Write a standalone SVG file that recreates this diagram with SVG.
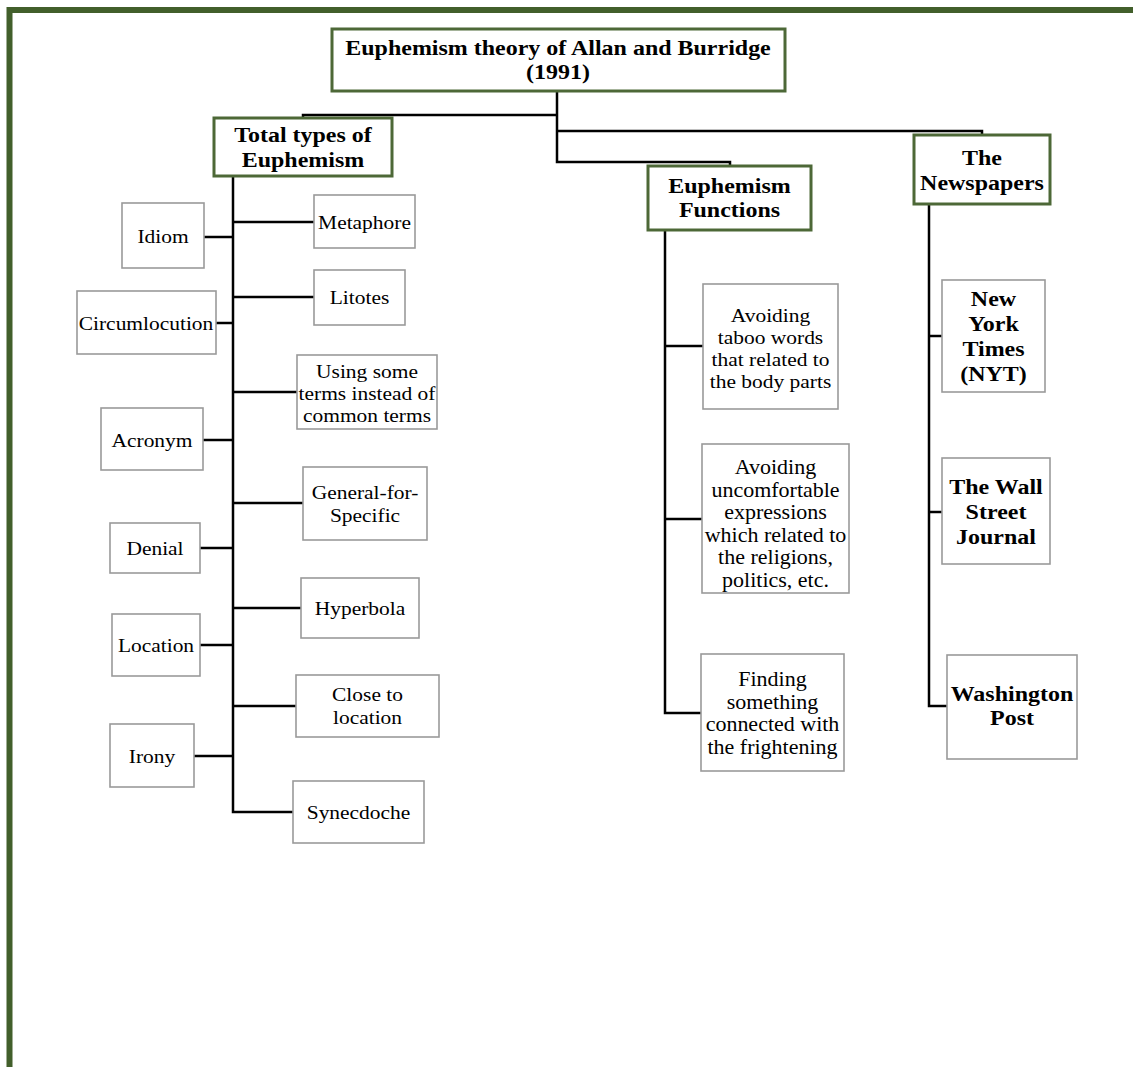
<svg xmlns="http://www.w3.org/2000/svg" width="1133" height="1067" viewBox="0 0 1133 1067">
<style>
.bg{fill:#ffffff}
.frame{stroke:#425f2b;stroke-width:6;fill:none}
.head{fill:#ffffff;stroke:#4d6837;stroke-width:3}
.leaf{fill:#ffffff;stroke:#9a9a9a;stroke-width:1.6}
.conn{stroke:#000000;stroke-width:2.5;fill:none}
text{font-family:"Liberation Serif","Times New Roman",serif;fill:#000000;text-anchor:middle}
.t{font-size:19.5px}
.m{font-size:20px}
.b{font-size:22px;font-weight:bold}
</style>
<rect class="bg" x="0" y="0" width="1133" height="1067"/>
<path class="frame" d="M9.5,1067 V10 H1133"/>

<g id="connectors">
<path class="conn" d="M557,91 V162 H730 V166"/>
<path class="conn" d="M557,115 H303 V118"/>
<path class="conn" d="M557,131 H982 V135"/>
<path class="conn" d="M233,176 V812 H293"/>
<path class="conn" d="M204,237 H233"/>
<path class="conn" d="M216,323 H233"/>
<path class="conn" d="M203,440 H233"/>
<path class="conn" d="M200,548 H233"/>
<path class="conn" d="M200,645 H233"/>
<path class="conn" d="M194,756 H233"/>
<path class="conn" d="M233,222 H314"/>
<path class="conn" d="M233,297 H314"/>
<path class="conn" d="M233,392 H297"/>
<path class="conn" d="M233,503 H303"/>
<path class="conn" d="M233,608 H301"/>
<path class="conn" d="M233,706 H296"/>
<path class="conn" d="M665,230 V713 H701"/>
<path class="conn" d="M665,346 H703"/>
<path class="conn" d="M665,519 H702"/>
<path class="conn" d="M929,204 V706 H947"/>
<path class="conn" d="M929,336 H942"/>
<path class="conn" d="M929,512 H942"/>
</g>

<g id="root">
<rect class="head" x="332" y="29" width="453" height="62"/>
<text class="b" transform="translate(558 55) scale(1.09 1)">Euphemism theory of Allan and Burridge</text>
<text class="b" transform="translate(558 79) scale(1.09 1)">(1991)</text>
</g>

<g id="total-types">
<rect class="head" x="214" y="118" width="178" height="58"/>
<text class="b" transform="translate(303 142) scale(1.09 1)">Total types of</text>
<text class="b" transform="translate(303 167) scale(1.09 1)">Euphemism</text>
</g>

<g id="functions">
<rect class="head" x="648" y="166" width="163" height="64"/>
<text class="b" transform="translate(729.5 193) scale(1.09 1)">Euphemism</text>
<text class="b" transform="translate(729.5 217) scale(1.09 1)">Functions</text>
</g>

<g id="newspapers">
<rect class="head" x="914" y="135" width="136" height="69"/>
<text class="b" transform="translate(982 165) scale(1.09 1)">The</text>
<text class="b" transform="translate(982 190) scale(1.09 1)">Newspapers</text>
</g>

<g id="idiom"><rect class="leaf" x="122" y="203" width="82" height="65"/><text class="t" transform="translate(163 243) scale(1.1 1)">Idiom</text></g>
<g id="circumlocution"><rect class="leaf" x="77" y="291" width="139" height="63"/><text class="t" transform="translate(146 330) scale(1.1 1)">Circumlocution</text></g>
<g id="acronym"><rect class="leaf" x="101" y="408" width="102" height="62"/><text class="t" transform="translate(152 447) scale(1.1 1)">Acronym</text></g>
<g id="denial"><rect class="leaf" x="110" y="523" width="90" height="50"/><text class="t" transform="translate(155 555) scale(1.1 1)">Denial</text></g>
<g id="location"><rect class="leaf" x="112" y="614" width="88" height="62"/><text class="t" transform="translate(156 652) scale(1.1 1)">Location</text></g>
<g id="irony"><rect class="leaf" x="110" y="724" width="84" height="63"/><text class="t" transform="translate(152 763) scale(1.1 1)">Irony</text></g>

<g id="metaphore"><rect class="leaf" x="314" y="195" width="101" height="53"/><text class="t" transform="translate(364.5 229) scale(1.1 1)">Metaphore</text></g>
<g id="litotes"><rect class="leaf" x="314" y="270" width="91" height="55"/><text class="t" transform="translate(359.5 304) scale(1.1 1)">Litotes</text></g>
<g id="using-some-terms"><rect class="leaf" x="297" y="355" width="140" height="74"/>
<text class="t" transform="translate(367 378) scale(1.1 1)">Using some</text>
<text class="t" transform="translate(367 400) scale(1.1 1)">terms instead of</text>
<text class="t" transform="translate(367 422) scale(1.1 1)">common terms</text></g>
<g id="general-for-specific"><rect class="leaf" x="303" y="467" width="124" height="73"/>
<text class="t" transform="translate(365 499) scale(1.1 1)">General-for-</text>
<text class="t" transform="translate(365 522) scale(1.1 1)">Specific</text></g>
<g id="hyperbola"><rect class="leaf" x="301" y="578" width="118" height="60"/><text class="t" transform="translate(360 615) scale(1.1 1)">Hyperbola</text></g>
<g id="close-to-location"><rect class="leaf" x="296" y="675" width="143" height="62"/>
<text class="t" transform="translate(367.5 701) scale(1.1 1)">Close to</text>
<text class="t" transform="translate(367.5 724) scale(1.1 1)">location</text></g>
<g id="synecdoche"><rect class="leaf" x="293" y="781" width="131" height="62"/><text class="t" transform="translate(358.5 819) scale(1.1 1)">Synecdoche</text></g>

<g id="taboo"><rect class="leaf" x="703" y="284" width="135" height="125"/>
<text class="t" transform="translate(770.5 322) scale(1.1 1)">Avoiding</text>
<text class="t" transform="translate(770.5 344) scale(1.1 1)">taboo words</text>
<text class="t" transform="translate(770.5 366) scale(1.1 1)">that related to</text>
<text class="t" transform="translate(770.5 388) scale(1.1 1)">the body parts</text></g>
<g id="uncomfortable"><rect class="leaf" x="702" y="444" width="147" height="149"/>
<text class="m" transform="translate(775.5 474) scale(1.1 1)">Avoiding</text>
<text class="m" transform="translate(775.5 497) scale(1.1 1)">uncomfortable</text>
<text class="m" transform="translate(775.5 519) scale(1.1 1)">expressions</text>
<text class="m" transform="translate(775.5 542) scale(1.1 1)">which related to</text>
<text class="m" transform="translate(775.5 564) scale(1.1 1)">the religions,</text>
<text class="m" transform="translate(775.5 587) scale(1.1 1)">politics, etc.</text></g>
<g id="frightening"><rect class="leaf" x="701" y="654" width="143" height="117"/>
<text class="m" transform="translate(772.5 686) scale(1.1 1)">Finding</text>
<text class="m" transform="translate(772.5 709) scale(1.1 1)">something</text>
<text class="m" transform="translate(772.5 731) scale(1.1 1)">connected with</text>
<text class="m" transform="translate(772.5 754) scale(1.1 1)">the frightening</text></g>

<g id="nyt"><rect class="leaf" x="942" y="280" width="103" height="112"/>
<text class="b" transform="translate(993.5 306) scale(1.09 1)">New</text>
<text class="b" transform="translate(993.5 331) scale(1.09 1)">York</text>
<text class="b" transform="translate(993.5 356) scale(1.09 1)">Times</text>
<text class="b" transform="translate(993.5 381) scale(1.09 1)">(NYT)</text></g>
<g id="wsj"><rect class="leaf" x="942" y="458" width="108" height="106"/>
<text class="b" transform="translate(996 494) scale(1.09 1)">The Wall</text>
<text class="b" transform="translate(996 519) scale(1.09 1)">Street</text>
<text class="b" transform="translate(996 544) scale(1.09 1)">Journal</text></g>
<g id="wp"><rect class="leaf" x="947" y="655" width="130" height="104"/>
<text class="b" transform="translate(1012 701) scale(1.09 1)">Washington</text>
<text class="b" transform="translate(1012 725) scale(1.09 1)">Post</text></g>
</svg>
